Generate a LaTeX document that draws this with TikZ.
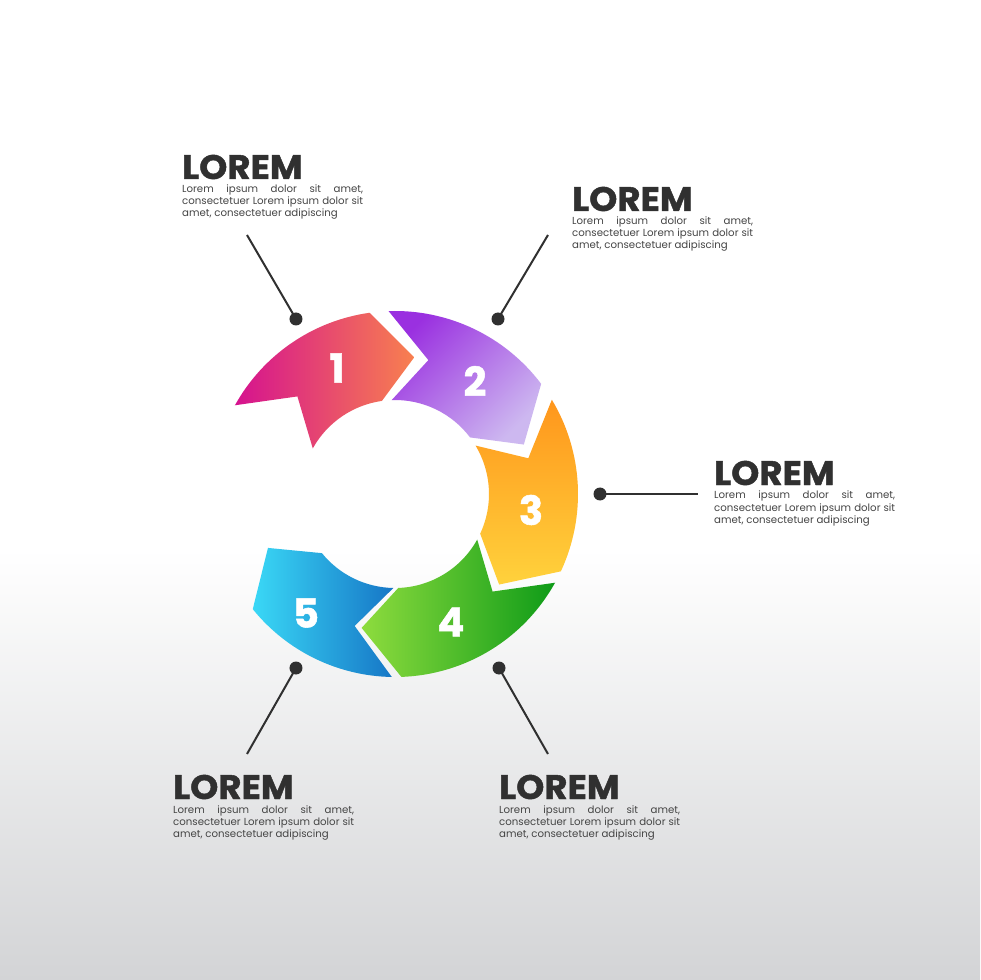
\documentclass[tikz,border=0pt]{standalone}
\usepackage{fontspec}
\setmainfont{Poppins}
\newfontfamily\heavyfont{Poppins}[BoldFeatures={FakeBold=1.3}]
\definecolor{txt}{HTML}{303030}
\definecolor{bgbot}{HTML}{D3D4D6}
\definecolor{sa}{HTML}{D5128F}\definecolor{sb}{HTML}{F8804F}
\definecolor{sc}{HTML}{9A30E0}\definecolor{sd}{HTML}{CDB8F0}
\definecolor{se}{HTML}{FF961C}\definecolor{sf}{HTML}{FFD23C}
\definecolor{sg}{HTML}{8EDC3E}\definecolor{sh}{HTML}{0E9B18}
\definecolor{si}{HTML}{3AD8F6}\definecolor{sj}{HTML}{1676C6}
\tikzset{
  numstyle/.style={text=white, font=\fontsize{40}{40}\selectfont\heavyfont\bfseries, inner sep=0},
  titlestyle/.style={text=txt, font=\fontsize{34}{34}\selectfont\heavyfont\bfseries, inner sep=0},
  bodystyle/.style={text=txt!90, font=\fontsize{10.2}{12}\selectfont, inner sep=0},
  dotstyle/.style={circle, fill=txt, minimum size=13pt, inner sep=0},
  linkstyle/.style={draw=txt, line width=2pt}
}
\newcommand{\ringseg}[3]{\shade[#3] (#1:183pt) arc[start angle=#1, end angle=#2, radius=183pt] -- ({#2-16}:138pt) -- (#2:94pt) arc[start angle=#2, end angle=#1, radius=94pt] -- ({#1-16}:138pt) -- cycle;}
\newcommand{\infoblock}[3]{%
  \node[titlestyle, anchor=base west] (#1t) at (#2,#3) {\scalebox{1.05}[1]{LOREM}};
  \node[bodystyle, anchor=base west] (#1a) at (#2,#3-14) {\makebox[181pt][s]{Lorem ipsum dolor sit amet,}};
  \node[bodystyle, anchor=base west] (#1b) at (#2,#3-26) {\makebox[181pt][s]{consectetuer Lorem ipsum dolor sit}};
  \node[bodystyle, anchor=base west] (#1c) at (#2,#3-38) {amet, consectetuer adipiscing};}
\begin{document}
\begin{tikzpicture}[x=1pt,y=1pt]
\useasboundingbox (-395,-486) rectangle (585,494);
\fill[white] (-395,-486) rectangle (585,494);
\shade[top color=white, bottom color=bgbot] (-395,-486) rectangle (585,-55);
% ring segments
\ringseg{151}{98}{left color=sa, right color=sb}
\ringseg{92}{37}{top color=sc, bottom color=sd, shading angle=45}
\ringseg{31}{-25}{top color=se, bottom color=sf}
\ringseg{-29}{-88}{left color=sg, right color=sh}
\ringseg{-91}{-141}{left color=si, right color=sj}
% numbers
\node[numstyle] (n1) at (-58,126) {1};
\node[numstyle] (n2) at (80,113) {2};
\node[numstyle] (n3) at (136,-16) {3};
\node[numstyle] (n4) at (56,-128) {4};
\node[numstyle] (n5) at (-89,-119) {5};
% connectors
\node[dotstyle] (d1) at (-99,175) {};
\node[dotstyle] (d2) at (103,175) {};
\node[dotstyle] (d3) at (205,0) {};
\node[dotstyle] (d4) at (104,-174) {};
\node[dotstyle] (d5) at (-99,-174) {};
\coordinate (e1) at (-148,259);
\coordinate (e2) at (153,259);
\coordinate (e3) at (303,0);
\coordinate (e4) at (153,-260);
\coordinate (e5) at (-148,-260);
\draw[linkstyle] (d1.center) -- (e1);
\draw[linkstyle] (d2.center) -- (e2);
\draw[linkstyle] (d3.center) -- (e3);
\draw[linkstyle] (d4.center) -- (e4);
\draw[linkstyle] (d5.center) -- (e5);
% text blocks
\infoblock{ta}{-213}{315}
\infoblock{tb}{177}{283}
\infoblock{tc}{319}{9}
\infoblock{td}{104}{-305}
\infoblock{te}{-222}{-305}
\end{tikzpicture}
\end{document}
